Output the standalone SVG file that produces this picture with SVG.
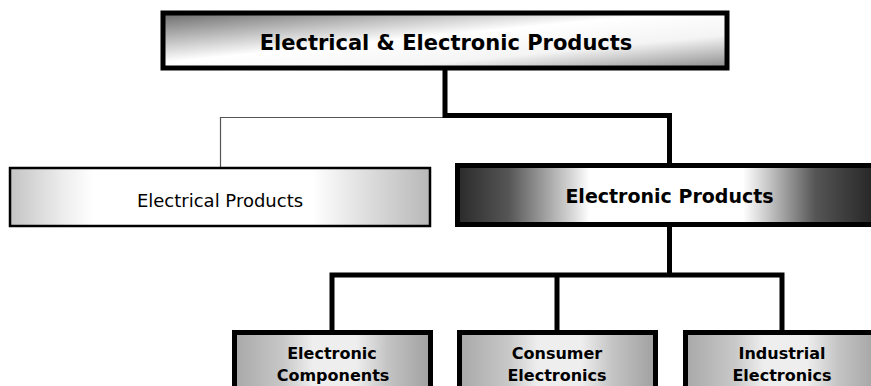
<svg xmlns="http://www.w3.org/2000/svg" width="871" height="386" viewBox="0 0 871 386">
<defs>
<linearGradient id="gTop" x1="0" y1="0" x2="1" y2="1">
<stop offset="0" stop-color="#6a6a6a"/>
<stop offset="0.25" stop-color="#bdbdbd"/>
<stop offset="0.45" stop-color="#ffffff"/>
<stop offset="0.7" stop-color="#f4f4f4"/>
<stop offset="1" stop-color="#8a8a8a"/>
</linearGradient>
<linearGradient id="gEl" x1="0" y1="0" x2="1" y2="0">
<stop offset="0" stop-color="#c4c4c4"/>
<stop offset="0.13" stop-color="#eeeeee"/>
<stop offset="0.2" stop-color="#ffffff"/>
<stop offset="0.72" stop-color="#ffffff"/>
<stop offset="0.85" stop-color="#dddddd"/>
<stop offset="1" stop-color="#b8b8b8"/>
</linearGradient>
<linearGradient id="gEn" x1="0" y1="0" x2="1" y2="0">
<stop offset="0" stop-color="#2a2a2a"/>
<stop offset="0.12" stop-color="#555555"/>
<stop offset="0.27" stop-color="#d8d8d8"/>
<stop offset="0.31" stop-color="#ffffff"/>
<stop offset="0.67" stop-color="#ffffff"/>
<stop offset="0.72" stop-color="#d0d0d0"/>
<stop offset="0.84" stop-color="#555555"/>
<stop offset="1" stop-color="#1e1e1e"/>
</linearGradient>
<linearGradient id="gBot" x1="0" y1="0" x2="1" y2="0">
<stop offset="0" stop-color="#a8a8a8"/>
<stop offset="0.25" stop-color="#c8c8c8"/>
<stop offset="0.4" stop-color="#eeeeee"/>
<stop offset="0.62" stop-color="#eeeeee"/>
<stop offset="0.78" stop-color="#c4c4c4"/>
<stop offset="1" stop-color="#a0a0a0"/>
</linearGradient>
</defs>
<style>
.thick{fill:none;stroke:#000;stroke-width:5}
.thin{fill:none;stroke:#555;stroke-width:1.2}
.t{font-family:"DejaVu Sans",Verdana,sans-serif;text-anchor:middle;fill:#000}
.b{font-weight:bold}
</style>
<rect width="871" height="386" fill="#fff"/>
<g id="connectors">
<path class="thin" d="M445 117.5 H220.5 V167"/>
<path class="thick" d="M445 70 V115.5 H669.5 V163"/>
<path class="thick" d="M669.5 227 V275 M332 275 H782 M332 272.5 V330 M557 272.5 V330 M782 272.5 V330"/>
</g>
<g id="n-root">
<rect x="163" y="13" width="564" height="55" fill="url(#gTop)" stroke="#000" stroke-width="5"/>
<text class="t b" x="446" y="50" font-size="21">Electrical &amp; Electronic Products</text>
</g>
<g id="n-electrical">
<rect x="10" y="168" width="420" height="58" fill="url(#gEl)" stroke="#000" stroke-width="2.5"/>
<text class="t" x="220" y="207" font-size="18">Electrical Products</text>
</g>
<g id="n-electronic">
<rect x="457.5" y="165.5" width="426" height="59" fill="url(#gEn)" stroke="#000" stroke-width="5"/>
<text class="t b" x="669.5" y="203" font-size="19">Electronic Products</text>
</g>
<g id="n-components">
<rect x="234.5" y="332.5" width="196" height="70" fill="url(#gBot)" stroke="#000" stroke-width="5"/>
<text class="t b" x="332" y="359" font-size="16">Electronic</text>
<text class="t b" x="333" y="381" font-size="16">Components</text>
</g>
<g id="n-consumer">
<rect x="459.5" y="332.5" width="196" height="70" fill="url(#gBot)" stroke="#000" stroke-width="5"/>
<text class="t b" x="557" y="359" font-size="16">Consumer</text>
<text class="t b" x="557" y="381" font-size="16">Electronics</text>
</g>
<g id="n-industrial">
<rect x="685.5" y="332.5" width="196" height="70" fill="url(#gBot)" stroke="#000" stroke-width="5"/>
<text class="t b" x="782" y="359" font-size="16">Industrial</text>
<text class="t b" x="782" y="381" font-size="16">Electronics</text>
</g>
</svg>
